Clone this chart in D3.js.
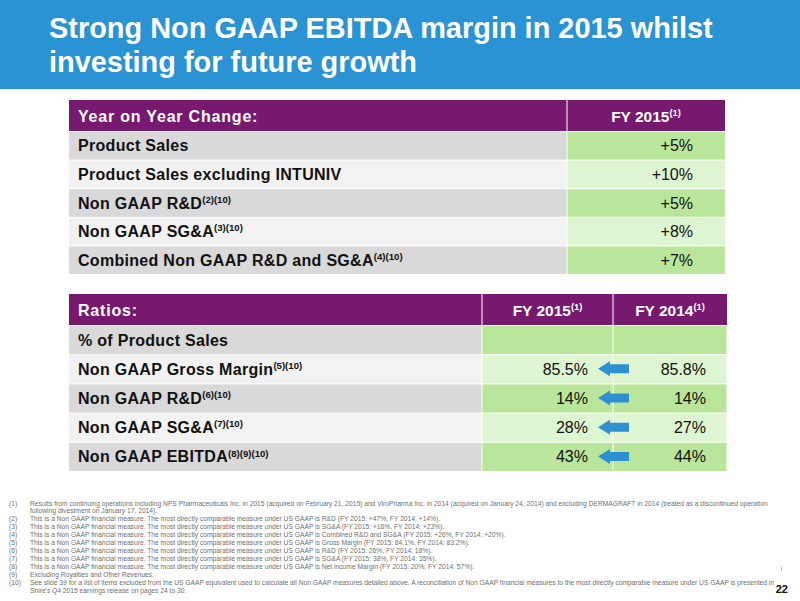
<!DOCTYPE html>
<html><head><meta charset="utf-8">
<script src="https://cdn.jsdelivr.net/npm/d3@7"></script>
<style>html,body{margin:0;padding:0;background:#fff;}svg{display:block;font-family:"Liberation Sans",Arial,sans-serif;}</style>
</head><body>
<script>
// ---- data ----
const titleLines = ["Strong Non GAAP EBITDA margin in 2015 whilst", "investing for future growth"];
const yoyHeader = ["Year on Year Change:", "FY 2015"];
const yoyHeaderSup = ["", "(1)"];
const yoyLabels = ["Product Sales", "Product Sales excluding INTUNIV", "Non GAAP R&D", "Non GAAP SG&A", "Combined Non GAAP R&D and SG&A"];
const yoySups = ["", "", "(2)(10)", "(3)(10)", "(4)(10)"];
const yoyValues = ["+5%", "+10%", "+5%", "+8%", "+7%"];
const ratioHeader = ["Ratios:", "FY 2015", "FY 2014"];
const ratioHeaderSup = ["", "(1)", "(1)"];
const ratioLabels = ["% of Product Sales", "Non GAAP Gross Margin", "Non GAAP R&D", "Non GAAP SG&A", "Non GAAP EBITDA"];
const ratioSups = ["", "(5)(10)", "(6)(10)", "(7)(10)", "(8)(9)(10)"];
const ratioFY2015 = ["", "85.5%", "14%", "28%", "43%"];
const ratioFY2014 = ["", "85.8%", "14%", "27%", "44%"];
const footnoteNums = ["(1)", "", "(2)", "(3)", "(4)", "(5)", "(6)", "(7)", "(8)", "(9)", "(10)", ""];
const footnotes = [
 "Results from continuing operations including NPS Pharmaceuticals Inc. in 2015 (acquired on February 21, 2015) and ViroPharma Inc. in 2014 (acquired on January 24, 2014) and excluding DERMAGRAFT in 2014 (treated as a discontinued operation",
 "following divestment on January 17, 2014).",
 "This is a Non GAAP financial measure. The most directly comparable measure under US GAAP is R&D (FY 2015: +47%, FY 2014: +14%).",
 "This is a Non GAAP financial measure. The most directly comparable measure under US GAAP is SG&A (FY 2015: +16%, FY 2014: +23%).",
 "This is a Non GAAP financial measure. The most directly comparable measure under US GAAP is Combined R&D and SG&A (FY 2015: +26%, FY 2014: +20%).",
 "This is a Non GAAP financial measure. The most directly comparable measure under US GAAP is Gross Margin (FY 2015: 84.1%, FY 2014: 83.2%).",
 "This is a Non GAAP financial measure. The most directly comparable measure under US GAAP is R&D (FY 2015: 26%, FY 2014: 18%).",
 "This is a Non GAAP financial measure. The most directly comparable measure under US GAAP is SG&A (FY 2015: 38%, FY 2014: 35%).",
 "This is a Non GAAP financial measure. The most directly comparable measure under US GAAP is Net income Margin (FY 2015: 20%, FY 2014: 57%).",
 "Excluding Royalties and Other Revenues.",
 "See slide 39 for a list of items excluded from the US GAAP equivalent used to calculate all Non GAAP measures detailed above. A reconciliation of Non GAAP financial measures to the most directly comparable measure under US GAAP is presented in",
 "Shire's Q4 2015 earnings release on pages 24 to 30."
];
const pageNumber = "22";

// ---- styles ----
const W = 800, H = 601;
const C = {blue:"#2a93d3", purple:"#771a6f", gray:"#d9d9d9", lgray:"#f2f2f2", green:"#b9e69a", lgreen:"#ddf5d0", arrow:"#2e90d0", foot:"#6f6f6f"};

const svg = d3.select("body").append("svg").attr("width", W).attr("height", H);

// header band
svg.append("rect").attr("x",0).attr("y",0).attr("width",W).attr("height",89).attr("fill",C.blue);
const ty = d3.scalePoint().domain(d3.range(titleLines.length)).range([38, 72]);
const tt = svg.selectAll("text.title").data(titleLines).join("text").attr("class","title")
  .attr("x",49).attr("y",(d,i)=>ty(i)).attr("fill","#fff").attr("font-weight","bold").attr("font-size",28).text(d=>d);
(function(){const n=tt.node();const w=n.getComputedTextLength();tt.attr("font-size",28*664/w);})();

function addSup(sel, main, sup, fs){
  sel.append("tspan").text(main);
  if (sup) sel.append("tspan").attr("font-size", fs*0.6).attr("dy", -fs*0.36).attr("letter-spacing",0).text(sup);
}

const FS = 15.5, LFS = 16, LLS = 0.3, HLS = 0.8;

// ---- table 1 ----
const t1x = d3.scaleOrdinal().domain([0,1,2]).range([69, 567, 725]);
const t1y = d3.scaleBand().domain(yoyLabels).range([131, 274]);
svg.append("rect").attr("x",t1x(0)).attr("y",100).attr("width",t1x(2)-t1x(0)).attr("height",31).attr("fill",C.purple);
svg.append("line").attr("x1",t1x(1)).attr("x2",t1x(1)).attr("y1",100).attr("y2",131).attr("stroke","#fff").attr("stroke-width",1);
svg.append("text").attr("x",78).attr("y",122).attr("fill","#fff").attr("font-weight","bold").attr("font-size",LFS).attr("letter-spacing",HLS)
  .call(s=>addSup(s, yoyHeader[0], yoyHeaderSup[0], LFS));
svg.append("text").attr("x",(t1x(1)+t1x(2))/2).attr("y",122).attr("text-anchor","middle").attr("fill","#fff").attr("font-weight","bold").attr("font-size",FS)
  .call(s=>addSup(s, yoyHeader[1], yoyHeaderSup[1], FS));

const r1 = svg.append("g").selectAll("g").data(yoyLabels).join("g");
r1.append("rect").attr("x",t1x(0)).attr("y",d=>t1y(d)+1).attr("width",t1x(1)-t1x(0)-0.5).attr("height",t1y.bandwidth()-1)
  .attr("fill",(d,i)=>i%2?C.lgray:C.gray);
r1.append("rect").attr("x",t1x(1)+0.5).attr("y",d=>t1y(d)+1).attr("width",t1x(2)-t1x(1)-0.5).attr("height",t1y.bandwidth()-1)
  .attr("fill",(d,i)=>i%2?C.lgreen:C.green);
r1.append("text").attr("x",78).attr("y",d=>t1y(d)+t1y.bandwidth()/2+6).attr("font-weight","bold").attr("font-size",LFS).attr("letter-spacing",LLS).attr("fill","#111")
  .each(function(d,i){addSup(d3.select(this), d, yoySups[i], LFS);});
r1.append("text").attr("x",693).attr("y",d=>t1y(d)+t1y.bandwidth()/2+6).attr("text-anchor","end").attr("font-size",LFS).attr("fill","#111")
  .text((d,i)=>yoyValues[i]);

// ---- table 2 ----
const t2x = d3.scaleOrdinal().domain([0,1,2,3]).range([69, 482, 613, 727]);
const t2y = d3.scaleBand().domain(ratioLabels).range([325, 471]);
svg.append("rect").attr("x",t2x(0)).attr("y",294).attr("width",t2x(3)-t2x(0)).attr("height",31).attr("fill",C.purple);
[1,2].forEach(k=>svg.append("line").attr("x1",t2x(k)).attr("x2",t2x(k)).attr("y1",294).attr("y2",325).attr("stroke","#fff"));
svg.append("text").attr("x",78).attr("y",316).attr("fill","#fff").attr("font-weight","bold").attr("font-size",LFS).attr("letter-spacing",HLS)
  .call(s=>addSup(s, ratioHeader[0], ratioHeaderSup[0], LFS));
[1,2].forEach(k=>svg.append("text").attr("x",(t2x(k)+t2x(k+1))/2).attr("y",316).attr("text-anchor","middle").attr("fill","#fff").attr("font-weight","bold").attr("font-size",FS)
  .call(s=>addSup(s, ratioHeader[k], ratioHeaderSup[k], FS)));

const r2 = svg.append("g").selectAll("g").data(ratioLabels).join("g");
r2.append("rect").attr("x",t2x(0)).attr("y",d=>t2y(d)+1).attr("width",t2x(1)-t2x(0)-0.5).attr("height",t2y.bandwidth()-1)
  .attr("fill",(d,i)=>i%2?C.lgray:C.gray);
[1,2].forEach(k=>r2.append("rect").attr("x",t2x(k)+0.5).attr("y",d=>t2y(d)+1).attr("width",t2x(k+1)-t2x(k)-1).attr("height",t2y.bandwidth()-1)
  .attr("fill",(d,i)=>(i%2===0)?C.green:C.lgreen));
r2.append("text").attr("x",78).attr("y",d=>t2y(d)+t2y.bandwidth()/2+6).attr("font-weight","bold").attr("font-size",LFS).attr("letter-spacing",LLS).attr("fill","#111")
  .each(function(d,i){addSup(d3.select(this), d, ratioSups[i], LFS);});
r2.append("text").attr("x",588).attr("y",d=>t2y(d)+t2y.bandwidth()/2+6).attr("text-anchor","end").attr("font-size",LFS).attr("fill","#111")
  .text((d,i)=>ratioFY2015[i]);
r2.append("text").attr("x",706).attr("y",d=>t2y(d)+t2y.bandwidth()/2+6).attr("text-anchor","end").attr("font-size",LFS).attr("fill","#111")
  .text((d,i)=>ratioFY2014[i]);
// arrows (FY2014 -> FY2015) for rows with values
r2.filter((d,i)=>ratioFY2015[i] !== "").append("path")
  .attr("transform",d=>`translate(598,${t2y(d)+t2y.bandwidth()/2})`)
  .attr("d","M0,0 L12,-7.5 L12,-4.5 L31,-4.5 L31,4.5 L12,4.5 L12,7.5 Z")
  .attr("fill",C.arrow);

// ---- footnotes ----
const fy = d3.scaleLinear().domain([0, footnotes.length-1]).range([505.5, 592.5]);
const fg = svg.append("g").attr("fill",C.foot).attr("font-size",6.3);
fg.selectAll("text.num").data(footnoteNums).join("text").attr("class","num").attr("x",9).attr("y",(d,i)=>fy(i)).text(d=>d);
const ft = fg.selectAll("text.fn").data(footnotes).join("text").attr("class","fn").attr("x",30).attr("y",(d,i)=>fy(i)).text(d=>d);
(function(){const w=ft.nodes()[0].getComputedTextLength();fg.attr("font-size",6.3*738/w);})();

// page number and small mark
svg.append("text").attr("x",788).attr("y",593).attr("text-anchor","end").attr("font-weight","bold").attr("font-size",11).attr("fill","#111").text(pageNumber);
svg.append("line").attr("x1",781.5).attr("x2",781.5).attr("y1",567).attr("y2",571).attr("stroke","#9fc3dc").attr("stroke-width",1);
</script>
</body></html>
